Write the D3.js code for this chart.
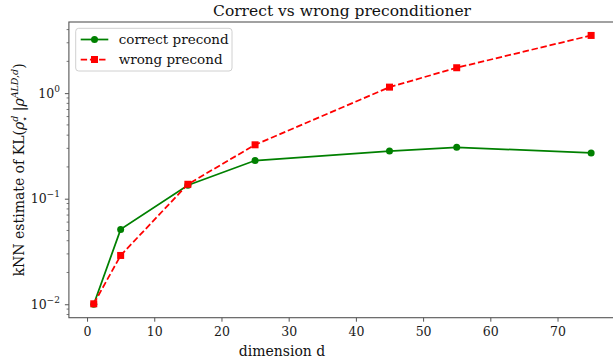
<!DOCTYPE html>
<html>
<head>
<meta charset="utf-8">
<script src="https://cdn.jsdelivr.net/npm/d3@7"></script>
<style>
  html, body { margin: 0; padding: 0; background: #fff; }
  svg, svg text { font-family: "DejaVu Serif", serif !important; }
  svg { display: block; }
</style>
</head>
<body>
<div id="chart"></div>
<script>
// data
const dims = [1, 5, 15, 25, 45, 55, 75];
const correctKL = [0.0100, 0.0512, 0.134, 0.230, 0.283, 0.307, 0.271];
const wrongKL = [0.0101, 0.0290, 0.137, 0.324, 1.14, 1.74, 3.52];
const xTicks = [0, 10, 20, 30, 40, 50, 60, 70];
const yTicks = [1e-2, 1e-1, 1e0];
const seriesNames = ['correct precond', 'wrong precond'];

const W = 613, H = 360;
const pLeft = 68.9, pRight = 616, pTop = 22, pBottom = 317.7;

const svg = d3.select('#chart').append('svg')
  .attr('width', W).attr('height', H)
  .style('overflow', 'hidden');

// matplotlib-like 5% margins
const xr = [d3.min(dims), d3.max(dims)];
const xm = (xr[1] - xr[0]) * 0.05;
const x = d3.scaleLinear().domain([xr[0] - xm, xr[1] + xm]).range([pLeft, pRight]);

const allY = correctKL.concat(wrongKL).map(Math.log10);
const ly = [d3.min(allY), d3.max(allY)];
const lm = (ly[1] - ly[0]) * 0.05;
const y = d3.scaleLog().domain([10 ** (ly[0] - lm), 10 ** (ly[1] + lm)]).range([pBottom, pTop]);

const axisColor = '#555';

// minor ticks on log axis
const minor = [];
[-3, -2, -1, 0].forEach(e => {
  for (let k = 2; k <= 9; k++) {
    const v = k * 10 ** e;
    if (v >= y.domain()[0] && v <= y.domain()[1]) minor.push(v);
  }
});

// x axis
const xAxis = svg.append('g')
  .attr('transform', `translate(0,${pBottom})`)
  .call(d3.axisBottom(x).tickValues(xTicks).tickSize(4).tickPadding(5));
xAxis.select('.domain').remove();
xAxis.selectAll('line').attr('stroke', axisColor);
xAxis.selectAll('text').attr('font-size', 12.5).attr('fill', '#1a1a1a');

// y axis
const yAxis = svg.append('g')
  .attr('transform', `translate(${pLeft},0)`)
  .call(d3.axisLeft(y).tickValues(yTicks).tickSize(4).tickPadding(5).tickFormat(() => ''));
yAxis.select('.domain').remove();
yAxis.selectAll('line').attr('stroke', axisColor);
yAxis.selectAll('.tick text').each(function(d) {
  const t = d3.select(this).attr('font-size', 12.5).attr('fill', '#1a1a1a');
  t.append('tspan').text('10');
  t.append('tspan').attr('dy', -6).attr('font-size', 9).text(String(Math.round(Math.log10(d))).replace('-', '\u2212'));
});
svg.append('g').selectAll('line').data(minor).join('line')
  .attr('x1', pLeft - 2.3).attr('x2', pLeft)
  .attr('y1', d => y(d)).attr('y2', d => y(d))
  .attr('stroke', axisColor).attr('stroke-width', 0.8);

// spines
svg.append('rect')
  .attr('x', pLeft).attr('y', pTop)
  .attr('width', pRight - pLeft).attr('height', pBottom - pTop)
  .attr('fill', 'none').attr('stroke', axisColor).attr('stroke-width', 1.1);

// lines
const line = d3.line().x(d => x(d[0])).y(d => y(d[1]));
const correctPts = dims.map((d, i) => [d, correctKL[i]]);
const wrongPts = dims.map((d, i) => [d, wrongKL[i]]);

svg.append('path').datum(correctPts).attr('d', line)
  .attr('fill', 'none').attr('stroke', 'green').attr('stroke-width', 1.75);
svg.append('g').selectAll('circle').data(correctPts).join('circle')
  .attr('cx', d => x(d[0])).attr('cy', d => y(d[1])).attr('r', 3.5).attr('fill', 'green');

svg.append('path').datum(wrongPts).attr('d', line)
  .attr('fill', 'none').attr('stroke', 'red').attr('stroke-width', 1.75)
  .attr('stroke-dasharray', '6.4,2.8');
svg.append('g').selectAll('rect').data(wrongPts).join('rect')
  .attr('x', d => x(d[0]) - 3.5).attr('y', d => y(d[1]) - 3.5)
  .attr('width', 7).attr('height', 7).attr('fill', 'red');

// title
svg.append('text').attr('x', 342).attr('y', 16)
  .attr('text-anchor', 'middle').attr('font-size', 15.5).attr('fill', '#111')
  .text('Correct vs wrong preconditioner');

// x label
svg.append('text').attr('x', 282).attr('y', 356)
  .attr('text-anchor', 'middle').attr('font-size', 14).attr('fill', '#111')
  .text('dimension d');

// y label with math
const yl = svg.append('text')
  .attr('transform', `translate(23.5,${(pTop + pBottom) / 2}) rotate(-90)`)
  .attr('text-anchor', 'middle').attr('font-size', 14).attr('fill', '#111');
yl.append('tspan').text('kNN estimate of KL(');
yl.append('tspan').attr('font-style', 'italic').text('\u03c1');
yl.append('tspan').attr('font-size', 9.5).attr('font-style', 'italic').attr('dy', -6).text('d');
yl.append('tspan').attr('font-size', 9.5).attr('dx', -6).attr('dy', 10).text('\u22c6');
yl.append('tspan').attr('dy', -4).text(' |');
yl.append('tspan').attr('font-style', 'italic').text('\u03c1');
yl.append('tspan').attr('font-size', 9.5).attr('font-style', 'italic').attr('dy', -6).text('ALD,d');
yl.append('tspan').attr('dy', 6).text(')');

// legend
const lg = svg.append('g');
lg.append('rect').attr('x', 75.7).attr('y', 28.3).attr('width', 156.3).attr('height', 42.7)
  .attr('rx', 3).attr('fill', 'white').attr('fill-opacity', 0.8)
  .attr('stroke', '#d0d0d0').attr('stroke-width', 1);
const rows = [
  { name: seriesNames[0], color: 'green', dash: null, shape: 'circle' },
  { name: seriesNames[1], color: 'red', dash: '6.4,2.8', shape: 'square' }
];
rows.forEach((r, i) => {
  const cy = 39.5 + i * 20;
  lg.append('line').attr('x1', 80.7).attr('x2', 108.3).attr('y1', cy).attr('y2', cy)
    .attr('stroke', r.color).attr('stroke-width', 1.75)
    .attr('stroke-dasharray', r.dash);
  if (r.shape === 'circle') {
    lg.append('circle').attr('cx', 94.5).attr('cy', cy).attr('r', 3.5).attr('fill', r.color);
  } else {
    lg.append('rect').attr('x', 91).attr('y', cy - 3.5).attr('width', 7).attr('height', 7).attr('fill', r.color);
  }
  lg.append('text').attr('x', 118.7).attr('y', cy + 4.5).attr('font-size', 13.5).attr('fill', '#111')
    .text(r.name);
});
</script>
</body>
</html>
